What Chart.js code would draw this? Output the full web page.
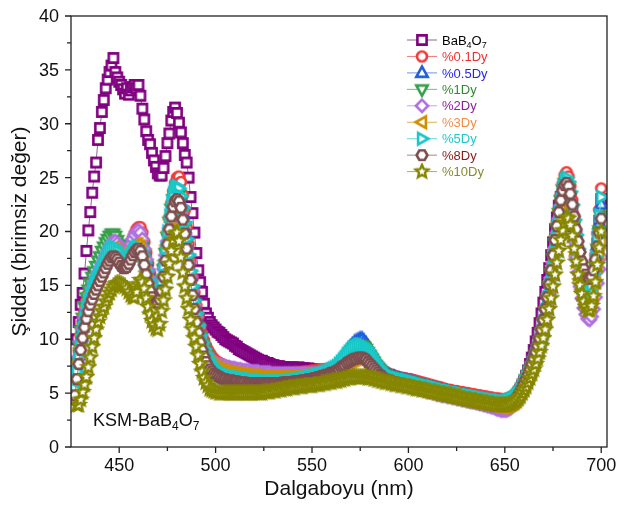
<!DOCTYPE html>
<html>
<head>
<meta charset="utf-8">
<script src="https://cdn.jsdelivr.net/npm/chart.js@4.4.1/dist/chart.umd.min.js"></script>
<style>
  html, body { margin: 0; padding: 0; background: #fff; }
</style>
</head>
<body>
<canvas id="myChart" width="617" height="506"></canvas>
<script>
const FONT = "'Liberation Sans', Arial, sans-serif";

// wavelength grid, 1 nm steps
const wavelengths = [];
for (let w = 427; w <= 700; w++) wavelengths.push(w);

const seriesNames = ["BaB4O7", "%0.1Dy", "%0.5Dy", "%1Dy", "%2Dy", "%3Dy", "%5Dy", "%8Dy", "%10Dy"];
const xTickLabels = [450, 500, 550, 600, 650, 700];
const yTickLabels = [0, 5, 10, 15, 20, 25, 30, 35, 40];

const bab4o7 = [
  null, 10.0, 11.6, 13.2, 14.3, 16.1, 18.2, 20.1, 21.8, 23.6,
  25.1, 26.4, 28.5, 29.6, 31.1, 32.2, 33.3, 34.1, 34.8, 35.4,
  36.1, 34.8, 34.3, 33.9, 33.6, 33.2, 32.8, 33.3, 32.7, 33.1,
  33.4, 33.6, 33.3, 33.6, 32.6, 31.4, 30.4, 29.3, 28.5, 28.1,
  27.3, 26.6, 26.0, 25.4, 25.2, 25.2, 25.9, 27.0, 28.2, 29.1,
  30.3, 31.1, 31.5, 31.0, 30.1, 29.2, 28.2, 27.1, 26.4, 25.0,
  23.2, 21.7, 19.9, 18.0, 16.4, 15.3, 14.4, 13.3, 12.4, 12.0,
  11.6, 11.3, 11.1, 10.9, 10.7, 10.6, 10.4, 10.2, 10.0, 9.9,
  9.8, 9.7, 9.6, 9.4, 9.3, 9.1, 9.0, 8.9, 8.8, 8.7,
  8.6, 8.5, 8.4, 8.3, 8.2, 8.1, 8.0, 8.0, 7.9, 7.8,
  7.8, 7.7, 7.6, 7.6, 7.5, 7.5, 7.5, 7.4, 7.4, 7.4,
  7.3, 7.4, 7.3, 7.4, 7.3, 7.3, 7.4, 7.3, 7.3, 7.3,
  7.2, 7.3, 7.2, 7.2, 7.2, 7.1, 7.1, 7.0, 7.0, 7.0,
  6.9, 6.9, 6.9, 6.9, 6.9, 7.0, 7.0, 7.1, 7.2, 7.3,
  7.5, 7.6, 7.8, 8.0, 8.2, 8.4, 8.6, 8.8, 9.0, 9.1,
  9.0, 8.8, 8.6, 8.4, 8.1, 7.9, 7.6, 7.4, 7.2, 7.0,
  6.9, 6.8, 6.7, 6.7, 6.6, 6.5, 6.5, 6.4, 6.4, 6.3,
  6.3, 6.2, 6.2, 6.1, 6.1, 6.0, 6.0, 5.9, 5.9, 5.8,
  5.8, 5.8, 5.7, 5.7, 5.6, 5.6, 5.5, 5.5, 5.5, 5.4,
  5.4, 5.3, 5.3, 5.2, 5.2, 5.1, 5.1, 5.0, 5.0, 5.0,
  4.9, 4.9, 4.8, 4.8, 4.7, 4.7, 4.6, 4.6, 4.5, 4.5,
  4.5, 4.4, 4.4, 4.3, 4.3, 4.2, 4.2, 4.2, 4.1, 4.1,
  4.0, 4.0, 4.0, 4.0, 4.0, 4.1, 4.2, 4.3, 4.5, 4.7,
  5.0, 5.3, 5.7, 6.1, 6.6, 7.1, 7.7, 8.3, 9.0, 9.8,
  10.6, 11.5, 12.4, 13.4, 14.4, 15.5, 16.6, 17.8, 19.0, 20.2,
  21.3, 22.4, 23.2, 23.8, 24.1, 24.0, 23.6, 22.9, 21.9, 20.6,
  19.3, 18.0, 16.8, 15.8, 15.0, 14.4, 14.0, 13.9, 14.3, 15.3,
  16.9, 18.9, 21.0, 23.0
];

const dy01 = [
  5.8, 7.4, 8.9, 10.3, 11.6, 12.6, 13.5, 14.2, 14.8, 15.3,
  15.8, 16.2, 16.6, 17.0, 17.4, 17.8, 18.2, 18.6, 19.0, 19.3,
  19.5, 19.5, 19.2, 18.8, 18.4, 18.1, 18.0, 18.1, 18.4, 18.8,
  19.3, 19.8, 20.2, 20.4, 20.4, 19.9, 19.0, 18.0, 17.0, 16.1,
  15.3, 14.8, 14.4, 14.3, 14.6, 15.5, 16.8, 18.3, 19.8, 21.3,
  22.6, 23.7, 24.5, 25.0, 25.1, 24.6, 23.4, 22.0, 20.4, 18.8,
  17.2, 15.7, 14.3, 13.1, 12.1, 11.2, 10.5, 9.9, 9.4, 9.0,
  8.7, 8.4, 8.2, 8.0, 7.9, 7.8, 7.7, 7.6, 7.5, 7.5,
  7.4, 7.4, 7.3, 7.3, 7.2, 7.2, 7.2, 7.1, 7.1, 7.1,
  7.0, 7.0, 7.0, 7.0, 6.9, 6.9, 6.9, 6.9, 6.9, 6.8,
  6.8, 6.8, 6.8, 6.8, 6.8, 6.8, 6.8, 6.8, 6.8, 6.8,
  6.8, 6.8, 6.8, 6.8, 6.8, 6.9, 6.9, 6.9, 6.9, 7.0,
  7.0, 7.0, 7.0, 7.1, 7.1, 7.1, 7.1, 7.2, 7.2, 7.2,
  7.2, 7.2, 7.3, 7.3, 7.3, 7.4, 7.5, 7.6, 7.8, 8.0,
  8.3, 8.6, 8.9, 9.1, 9.3, 9.5, 9.6, 9.7, 9.8, 9.8,
  9.6, 9.4, 9.1, 8.8, 8.5, 8.2, 7.9, 7.6, 7.4, 7.2,
  7.0, 6.9, 6.8, 6.7, 6.7, 6.6, 6.6, 6.5, 6.5, 6.4,
  6.4, 6.4, 6.3, 6.3, 6.3, 6.2, 6.2, 6.1, 6.1, 6.0,
  6.0, 5.9, 5.9, 5.8, 5.8, 5.7, 5.7, 5.6, 5.6, 5.5,
  5.5, 5.4, 5.4, 5.3, 5.3, 5.3, 5.2, 5.2, 5.2, 5.1,
  5.1, 5.1, 5.0, 5.0, 5.0, 4.9, 4.9, 4.9, 4.8, 4.8,
  4.8, 4.7, 4.7, 4.7, 4.6, 4.6, 4.6, 4.5, 4.5, 4.5,
  4.5, 4.4, 4.4, 4.4, 4.5, 4.5, 4.6, 4.7, 4.8, 5.0,
  5.2, 5.5, 5.8, 6.2, 6.6, 7.0, 7.4, 7.8, 8.3, 8.8,
  9.4, 10.1, 10.9, 11.8, 12.8, 13.9, 15.1, 16.4, 17.8, 19.2,
  20.6, 22.0, 23.3, 24.4, 25.2, 25.5, 25.1, 24.2, 22.9, 21.4,
  19.9, 18.5, 17.3, 16.3, 15.5, 14.9, 14.6, 14.6, 15.1, 16.2,
  17.8, 19.8, 22.0, 24.0
];

const dy05 = [
  5.5, 7.0, 8.5, 9.9, 11.1, 12.1, 13.0, 13.7, 14.3, 14.8,
  15.3, 15.7, 16.1, 16.5, 16.9, 17.3, 17.7, 18.1, 18.5, 18.8,
  19.0, 19.0, 18.7, 18.3, 17.9, 17.6, 17.5, 17.6, 17.9, 18.3,
  18.7, 19.1, 19.4, 19.5, 19.4, 18.9, 18.1, 17.2, 16.3, 15.4,
  14.7, 14.2, 13.8, 13.7, 14.0, 14.8, 16.0, 17.4, 18.8, 20.1,
  21.3, 22.3, 22.9, 23.2, 23.1, 22.6, 21.6, 20.3, 18.9, 17.4,
  15.9, 14.5, 13.2, 12.0, 11.0, 10.1, 9.4, 8.8, 8.3, 7.9,
  7.6, 7.3, 7.1, 6.9, 6.8, 6.6, 6.5, 6.4, 6.3, 6.2,
  6.2, 6.1, 6.1, 6.0, 6.0, 5.9, 5.9, 5.9, 5.8, 5.8,
  5.8, 5.8, 5.7, 5.7, 5.7, 5.7, 5.7, 5.7, 5.6, 5.6,
  5.6, 5.6, 5.6, 5.6, 5.6, 5.6, 5.6, 5.6, 5.6, 5.6,
  5.6, 5.6, 5.6, 5.7, 5.7, 5.7, 5.8, 5.8, 5.9, 5.9,
  6.0, 6.0, 6.1, 6.2, 6.2, 6.3, 6.4, 6.5, 6.6, 6.7,
  6.8, 6.9, 7.0, 7.1, 7.2, 7.3, 7.5, 7.7, 7.9, 8.2,
  8.5, 8.8, 9.1, 9.3, 9.5, 9.7, 9.8, 9.9, 10.0, 10.0,
  9.8, 9.6, 9.3, 9.0, 8.6, 8.3, 8.0, 7.7, 7.4, 7.2,
  7.0, 6.8, 6.7, 6.6, 6.5, 6.4, 6.4, 6.3, 6.3, 6.2,
  6.2, 6.1, 6.1, 6.0, 6.0, 5.9, 5.9, 5.8, 5.8, 5.7,
  5.7, 5.6, 5.6, 5.5, 5.5, 5.4, 5.4, 5.3, 5.3, 5.2,
  5.2, 5.1, 5.1, 5.0, 5.0, 4.9, 4.9, 4.8, 4.8, 4.7,
  4.7, 4.7, 4.6, 4.6, 4.5, 4.5, 4.4, 4.4, 4.4, 4.3,
  4.3, 4.2, 4.2, 4.2, 4.1, 4.1, 4.0, 4.0, 4.0, 3.9,
  3.9, 3.9, 3.9, 3.9, 3.9, 4.0, 4.1, 4.2, 4.3, 4.5,
  4.7, 5.0, 5.3, 5.7, 6.1, 6.5, 6.9, 7.3, 7.8, 8.3,
  8.9, 9.6, 10.4, 11.3, 12.3, 13.4, 14.6, 15.9, 17.2, 18.6,
  20.0, 21.4, 22.6, 23.6, 24.2, 24.3, 23.9, 23.0, 21.8, 20.4,
  19.0, 17.6, 16.4, 15.4, 14.6, 14.0, 13.7, 13.7, 14.2, 15.2,
  16.8, 18.7, 20.7, 22.5
];

const dy1 = [
  6.2, 7.9, 9.4, 10.8, 12.0, 13.0, 13.9, 14.6, 15.2, 15.8,
  16.3, 16.8, 17.3, 17.7, 18.2, 18.6, 19.0, 19.3, 19.6, 19.8,
  19.8, 19.6, 19.2, 18.8, 18.4, 18.1, 17.9, 17.9, 18.1, 18.4,
  18.8, 19.1, 19.3, 19.3, 19.1, 18.6, 17.9, 17.0, 16.1, 15.3,
  14.6, 14.2, 13.9, 13.9, 14.3, 15.2, 16.5, 18.0, 19.5, 20.9,
  22.1, 23.0, 23.5, 23.6, 23.4, 22.8, 21.8, 20.5, 19.0, 17.5,
  16.0, 14.6, 13.3, 12.1, 11.1, 10.3, 9.6, 9.1, 8.6, 8.3,
  8.0, 7.7, 7.5, 7.3, 7.2, 7.1, 7.0, 6.9, 6.8, 6.8,
  6.7, 6.7, 6.6, 6.6, 6.6, 6.5, 6.5, 6.5, 6.4, 6.4,
  6.4, 6.4, 6.3, 6.3, 6.3, 6.3, 6.3, 6.3, 6.2, 6.2,
  6.2, 6.2, 6.2, 6.2, 6.2, 6.2, 6.2, 6.2, 6.2, 6.2,
  6.2, 6.2, 6.2, 6.3, 6.3, 6.3, 6.3, 6.4, 6.4, 6.4,
  6.5, 6.5, 6.5, 6.6, 6.6, 6.7, 6.7, 6.8, 6.8, 6.9,
  6.9, 7.0, 7.0, 7.1, 7.2, 7.3, 7.4, 7.5, 7.7, 7.9,
  8.1, 8.4, 8.6, 8.8, 9.0, 9.2, 9.3, 9.4, 9.4, 9.4,
  9.3, 9.1, 8.8, 8.5, 8.2, 7.9, 7.6, 7.4, 7.2, 7.0,
  6.8, 6.7, 6.6, 6.5, 6.5, 6.4, 6.4, 6.3, 6.3, 6.2,
  6.2, 6.1, 6.1, 6.1, 6.0, 6.0, 5.9, 5.9, 5.8, 5.8,
  5.7, 5.7, 5.6, 5.6, 5.5, 5.5, 5.5, 5.4, 5.4, 5.3,
  5.3, 5.2, 5.2, 5.1, 5.1, 5.1, 5.0, 5.0, 4.9, 4.9,
  4.9, 4.8, 4.8, 4.7, 4.7, 4.7, 4.6, 4.6, 4.5, 4.5,
  4.5, 4.4, 4.4, 4.4, 4.3, 4.3, 4.3, 4.2, 4.2, 4.2,
  4.1, 4.1, 4.1, 4.1, 4.1, 4.2, 4.2, 4.3, 4.5, 4.7,
  4.9, 5.2, 5.5, 5.9, 6.3, 6.7, 7.1, 7.5, 8.0, 8.5,
  9.1, 9.8, 10.6, 11.5, 12.5, 13.6, 14.8, 16.1, 17.5, 18.9,
  20.3, 21.7, 22.9, 23.9, 24.5, 24.6, 24.2, 23.3, 22.0, 20.6,
  19.2, 17.9, 16.7, 15.7, 14.9, 14.3, 14.0, 14.0, 14.4, 15.3,
  16.7, 18.4, 20.1, 21.5
];

const dy2 = [
  5.3, 6.9, 8.4, 9.8, 11.0, 12.0, 12.9, 13.6, 14.2, 14.8,
  15.3, 15.8, 16.2, 16.6, 17.0, 17.4, 17.8, 18.2, 18.6, 18.9,
  19.1, 19.1, 18.9, 18.6, 18.3, 18.1, 18.0, 18.1, 18.4, 18.8,
  19.3, 19.7, 20.0, 20.1, 19.9, 19.3, 18.4, 17.4, 16.4, 15.6,
  14.9, 14.5, 14.2, 14.2, 14.5, 15.3, 16.5, 17.8, 19.1, 20.3,
  21.3, 22.0, 22.4, 22.5, 22.3, 21.7, 20.8, 19.7, 18.4, 17.1,
  15.8, 14.5, 13.2, 12.1, 11.1, 10.3, 9.6, 9.1, 8.7, 8.4,
  8.2, 8.0, 7.9, 7.8, 7.7, 7.6, 7.6, 7.5, 7.5, 7.4,
  7.4, 7.3, 7.3, 7.3, 7.2, 7.2, 7.2, 7.1, 7.1, 7.1,
  7.1, 7.0, 7.0, 7.0, 7.0, 7.0, 6.9, 6.9, 6.9, 6.9,
  6.9, 6.9, 6.8, 6.8, 6.8, 6.8, 6.8, 6.8, 6.8, 6.8,
  6.8, 6.8, 6.8, 6.8, 6.8, 6.8, 6.8, 6.8, 6.8, 6.8,
  6.8, 6.8, 6.8, 6.8, 6.8, 6.8, 6.8, 6.8, 6.8, 6.8,
  6.8, 6.8, 6.8, 6.9, 6.9, 7.0, 7.1, 7.2, 7.3, 7.5,
  7.6, 7.8, 8.0, 8.1, 8.3, 8.4, 8.5, 8.6, 8.6, 8.6,
  8.5, 8.3, 8.1, 7.9, 7.7, 7.4, 7.2, 7.0, 6.8, 6.7,
  6.5, 6.4, 6.3, 6.2, 6.2, 6.1, 6.0, 6.0, 5.9, 5.9,
  5.8, 5.8, 5.7, 5.7, 5.6, 5.6, 5.5, 5.5, 5.4, 5.4,
  5.3, 5.3, 5.2, 5.2, 5.1, 5.1, 5.0, 5.0, 4.9, 4.9,
  4.8, 4.8, 4.8, 4.7, 4.7, 4.7, 4.6, 4.6, 4.5, 4.5,
  4.5, 4.4, 4.4, 4.3, 4.3, 4.2, 4.2, 4.2, 4.1, 4.1,
  4.0, 4.0, 3.9, 3.9, 3.8, 3.8, 3.7, 3.7, 3.6, 3.5,
  3.5, 3.4, 3.4, 3.4, 3.4, 3.5, 3.6, 3.8, 4.0, 4.2,
  4.5, 4.8, 5.1, 5.5, 5.9, 6.3, 6.7, 7.1, 7.6, 8.1,
  8.7, 9.4, 10.2, 11.1, 12.1, 13.2, 14.4, 15.7, 17.1, 18.5,
  19.9, 21.2, 22.4, 23.2, 23.6, 23.5, 22.9, 21.9, 20.6, 19.1,
  17.6, 16.2, 14.9, 13.8, 12.9, 12.3, 11.9, 11.8, 12.1, 12.8,
  13.9, 15.2, 16.5, 17.6
];

const dy3 = [
  5.0, 6.5, 7.9, 9.2, 10.4, 11.4, 12.3, 13.0, 13.7, 14.3,
  14.8, 15.3, 15.7, 16.1, 16.5, 16.9, 17.3, 17.7, 18.0, 18.3,
  18.4, 18.3, 18.1, 17.8, 17.5, 17.3, 17.2, 17.3, 17.6, 18.0,
  18.4, 18.7, 18.8, 18.8, 18.6, 18.0, 17.2, 16.3, 15.4, 14.6,
  14.0, 13.7, 13.6, 13.6, 13.9, 14.7, 15.9, 17.3, 18.7, 20.0,
  21.1, 21.9, 22.3, 22.4, 22.2, 21.6, 20.6, 19.4, 18.1, 16.7,
  15.3, 14.0, 12.8, 11.7, 10.7, 9.9, 9.2, 8.7, 8.3, 8.0,
  7.8, 7.6, 7.5, 7.4, 7.3, 7.2, 7.1, 7.1, 7.0, 7.0,
  6.9, 6.9, 6.9, 6.8, 6.8, 6.8, 6.7, 6.7, 6.7, 6.7,
  6.6, 6.6, 6.6, 6.6, 6.6, 6.5, 6.5, 6.5, 6.5, 6.5,
  6.5, 6.5, 6.5, 6.5, 6.5, 6.5, 6.5, 6.5, 6.5, 6.5,
  6.5, 6.5, 6.5, 6.5, 6.5, 6.5, 6.5, 6.5, 6.6, 6.6,
  6.6, 6.6, 6.6, 6.6, 6.7, 6.7, 6.7, 6.7, 6.7, 6.8,
  6.8, 6.8, 6.8, 6.9, 6.9, 7.0, 7.0, 7.1, 7.2, 7.3,
  7.5, 7.6, 7.8, 7.9, 8.0, 8.1, 8.2, 8.3, 8.3, 8.3,
  8.2, 8.0, 7.8, 7.6, 7.4, 7.2, 7.0, 6.8, 6.6, 6.5,
  6.4, 6.3, 6.2, 6.1, 6.1, 6.0, 6.0, 5.9, 5.9, 5.8,
  5.8, 5.7, 5.7, 5.6, 5.6, 5.6, 5.5, 5.5, 5.4, 5.4,
  5.3, 5.3, 5.3, 5.2, 5.2, 5.1, 5.1, 5.0, 5.0, 5.0,
  4.9, 4.9, 4.8, 4.8, 4.8, 4.7, 4.7, 4.6, 4.6, 4.6,
  4.5, 4.5, 4.4, 4.4, 4.4, 4.3, 4.3, 4.2, 4.2, 4.2,
  4.1, 4.1, 4.0, 4.0, 4.0, 3.9, 3.9, 3.9, 3.8, 3.8,
  3.8, 3.7, 3.7, 3.7, 3.7, 3.8, 3.9, 4.0, 4.1, 4.3,
  4.5, 4.8, 5.1, 5.4, 5.8, 6.2, 6.6, 7.0, 7.5, 8.0,
  8.6, 9.3, 10.1, 11.0, 11.9, 13.0, 14.2, 15.4, 16.8, 18.2,
  19.6, 20.9, 22.0, 22.9, 23.3, 23.4, 22.9, 22.0, 20.8, 19.5,
  18.1, 16.8, 15.6, 14.6, 13.8, 13.3, 13.0, 13.0, 13.4, 14.2,
  15.4, 16.8, 18.0, 19.0
];

const dy5 = [
  5.4, 7.0, 8.5, 9.8, 11.0, 12.0, 12.9, 13.6, 14.2, 14.7,
  15.2, 15.6, 16.0, 16.4, 16.8, 17.2, 17.6, 18.0, 18.3, 18.5,
  18.6, 18.5, 18.2, 17.8, 17.4, 17.1, 17.0, 17.1, 17.4, 17.8,
  18.2, 18.5, 18.6, 18.5, 18.3, 17.8, 17.1, 16.3, 15.5, 14.8,
  14.3, 14.0, 14.0, 14.1, 14.5, 15.4, 16.8, 18.4, 20.0, 21.5,
  22.7, 23.6, 24.1, 24.2, 24.0, 23.3, 22.2, 20.8, 19.3, 17.8,
  16.3, 14.9, 13.6, 12.4, 11.3, 10.4, 9.7, 9.1, 8.6, 8.2,
  7.9, 7.6, 7.4, 7.2, 7.1, 7.0, 6.9, 6.8, 6.7, 6.7,
  6.6, 6.6, 6.5, 6.5, 6.5, 6.4, 6.4, 6.4, 6.3, 6.3,
  6.3, 6.3, 6.2, 6.2, 6.2, 6.2, 6.2, 6.2, 6.1, 6.1,
  6.1, 6.1, 6.1, 6.1, 6.1, 6.1, 6.1, 6.1, 6.1, 6.1,
  6.1, 6.1, 6.2, 6.2, 6.2, 6.2, 6.3, 6.3, 6.3, 6.4,
  6.4, 6.5, 6.5, 6.6, 6.6, 6.7, 6.7, 6.8, 6.8, 6.9,
  7.0, 7.0, 7.1, 7.2, 7.3, 7.4, 7.5, 7.7, 7.9, 8.1,
  8.3, 8.6, 8.8, 9.0, 9.2, 9.3, 9.4, 9.5, 9.5, 9.5,
  9.4, 9.2, 9.0, 8.7, 8.4, 8.1, 7.8, 7.5, 7.3, 7.1,
  6.9, 6.8, 6.7, 6.6, 6.5, 6.5, 6.4, 6.4, 6.3, 6.3,
  6.2, 6.2, 6.2, 6.1, 6.1, 6.0, 6.0, 5.9, 5.9, 5.8,
  5.8, 5.7, 5.7, 5.6, 5.6, 5.6, 5.5, 5.5, 5.4, 5.4,
  5.3, 5.3, 5.2, 5.2, 5.2, 5.1, 5.1, 5.0, 5.0, 5.0,
  4.9, 4.9, 4.8, 4.8, 4.8, 4.7, 4.7, 4.7, 4.6, 4.6,
  4.6, 4.5, 4.5, 4.5, 4.4, 4.4, 4.4, 4.3, 4.3, 4.3,
  4.3, 4.2, 4.2, 4.2, 4.3, 4.3, 4.4, 4.5, 4.6, 4.8,
  5.0, 5.3, 5.6, 6.0, 6.4, 6.8, 7.2, 7.6, 8.1, 8.6,
  9.2, 9.9, 10.7, 11.6, 12.6, 13.7, 14.9, 16.2, 17.6, 19.0,
  20.4, 21.8, 23.0, 24.1, 24.8, 25.0, 24.6, 23.7, 22.5, 21.1,
  19.7, 18.4, 17.2, 16.2, 15.4, 14.8, 14.5, 14.5, 15.0, 16.1,
  17.6, 19.5, 21.5, 23.2
];

const dy8 = [
  4.8, 6.3, 7.7, 9.0, 10.1, 11.1, 11.9, 12.6, 13.2, 13.7,
  14.2, 14.6, 15.0, 15.4, 15.8, 16.2, 16.6, 17.0, 17.3, 17.6,
  17.7, 17.6, 17.4, 17.1, 16.8, 16.6, 16.6, 16.7, 17.0, 17.4,
  17.8, 18.1, 18.3, 18.4, 18.2, 17.7, 16.9, 16.0, 15.2, 14.5,
  13.9, 13.5, 13.4, 13.4, 13.7, 14.5, 15.8, 17.3, 18.8, 20.2,
  21.4, 22.3, 22.8, 23.0, 22.8, 22.2, 21.1, 19.8, 18.4, 16.9,
  15.5, 14.1, 12.8, 11.6, 10.6, 9.7, 9.0, 8.4, 7.9, 7.5,
  7.2, 7.0, 6.8, 6.7, 6.6, 6.5, 6.4, 6.3, 6.3, 6.2,
  6.2, 6.2, 6.1, 6.1, 6.1, 6.0, 6.0, 6.0, 6.0, 5.9,
  5.9, 5.9, 5.9, 5.9, 5.9, 5.9, 5.9, 5.9, 5.9, 5.9,
  5.9, 5.9, 5.9, 5.9, 5.9, 5.9, 5.9, 5.9, 6.0, 6.0,
  6.0, 6.0, 6.0, 6.0, 6.1, 6.1, 6.1, 6.1, 6.2, 6.2,
  6.2, 6.3, 6.3, 6.3, 6.4, 6.4, 6.5, 6.5, 6.6, 6.6,
  6.7, 6.7, 6.8, 6.9, 6.9, 7.0, 7.1, 7.2, 7.4, 7.5,
  7.6, 7.8, 7.9, 8.0, 8.1, 8.2, 8.2, 8.3, 8.3, 8.3,
  8.2, 8.1, 7.9, 7.7, 7.5, 7.3, 7.1, 6.9, 6.7, 6.6,
  6.4, 6.3, 6.2, 6.2, 6.1, 6.0, 6.0, 5.9, 5.9, 5.8,
  5.8, 5.7, 5.7, 5.7, 5.6, 5.6, 5.5, 5.5, 5.4, 5.4,
  5.4, 5.3, 5.3, 5.2, 5.2, 5.1, 5.1, 5.1, 5.0, 5.0,
  4.9, 4.9, 4.9, 4.8, 4.8, 4.7, 4.7, 4.6, 4.6, 4.6,
  4.5, 4.5, 4.4, 4.4, 4.4, 4.3, 4.3, 4.3, 4.2, 4.2,
  4.2, 4.1, 4.1, 4.1, 4.0, 4.0, 4.0, 3.9, 3.9, 3.9,
  3.9, 3.8, 3.8, 3.8, 3.9, 3.9, 4.0, 4.1, 4.3, 4.5,
  4.8, 5.1, 5.5, 5.9, 6.3, 6.7, 7.2, 7.7, 8.2, 8.8,
  9.4, 10.1, 10.9, 11.8, 12.8, 13.9, 15.1, 16.4, 17.8, 19.2,
  20.5, 21.8, 22.9, 23.8, 24.3, 24.5, 24.2, 23.5, 22.5, 21.4,
  20.2, 19.1, 18.1, 17.2, 16.5, 16.0, 15.7, 15.6, 15.8, 16.4,
  17.4, 18.6, 19.9, 21.2
];

const dy10 = [
  null, 3.9, 3.9, 4.4, 5.1, 5.8, 6.5, 7.4, 8.3, 9.3,
  10.1, 10.9, 11.6, 12.1, 12.6, 13.0, 13.5, 13.9, 14.3, 14.6,
  14.9, 15.1, 15.2, 15.2, 15.1, 15.0, 14.9, 14.7, 14.4, 14.1,
  13.9, 13.9, 14.4, 15.1, 15.5, 15.3, 14.7, 13.8, 13.0, 12.3,
  11.7, 11.3, 11.0, 10.9, 11.4, 12.6, 13.6, 14.6, 15.8, 17.0,
  18.2, 19.2, 19.8, 19.9, 19.1, 17.6, 16.2, 14.9, 13.8, 12.8,
  11.8, 10.9, 10.1, 9.3, 8.5, 7.7, 7.0, 6.4, 6.0, 5.7,
  5.4, 5.3, 5.2, 5.1, 5.1, 5.0, 5.0, 5.0, 5.0, 5.0,
  5.0, 5.0, 5.0, 5.0, 5.0, 5.0, 5.0, 5.0, 5.0, 5.0,
  5.0, 5.0, 5.0, 5.0, 5.0, 5.0, 5.0, 5.0, 5.1, 5.1,
  5.1, 5.1, 5.2, 5.2, 5.2, 5.3, 5.3, 5.3, 5.4, 5.4,
  5.4, 5.5, 5.5, 5.5, 5.5, 5.6, 5.6, 5.6, 5.6, 5.7,
  5.7, 5.7, 5.7, 5.7, 5.8, 5.8, 5.8, 5.8, 5.9, 5.9,
  5.9, 6.0, 6.0, 6.0, 6.1, 6.1, 6.1, 6.2, 6.2, 6.3,
  6.3, 6.4, 6.4, 6.4, 6.5, 6.5, 6.5, 6.5, 6.5, 6.5,
  6.5, 6.5, 6.4, 6.4, 6.4, 6.3, 6.3, 6.2, 6.2, 6.1,
  6.1, 6.0, 6.0, 6.0, 5.9, 5.9, 5.8, 5.8, 5.8, 5.7,
  5.7, 5.7, 5.6, 5.6, 5.6, 5.5, 5.5, 5.4, 5.4, 5.4,
  5.3, 5.3, 5.3, 5.2, 5.2, 5.1, 5.1, 5.1, 5.0, 5.0,
  4.9, 4.9, 4.9, 4.8, 4.8, 4.8, 4.7, 4.7, 4.6, 4.6,
  4.6, 4.5, 4.5, 4.4, 4.4, 4.4, 4.3, 4.3, 4.3, 4.2,
  4.2, 4.2, 4.1, 4.1, 4.1, 4.0, 4.0, 4.0, 3.9, 3.9,
  3.9, 3.9, 3.9, 3.9, 3.9, 4.0, 4.0, 4.1, 4.2, 4.3,
  4.5, 4.7, 5.0, 5.3, 5.6, 6.0, 6.4, 6.8, 7.2, 7.7,
  8.2, 8.8, 9.4, 10.1, 10.9, 11.8, 12.8, 13.8, 14.9, 16.0,
  17.1, 18.2, 19.2, 20.1, 20.8, 21.3, 21.2, 20.6, 19.6, 18.4,
  17.2, 16.0, 15.0, 14.2, 13.5, 13.0, 12.7, 12.7, 13.1, 14.0,
  15.3, 16.9, 18.5, 20.0
];

const seriesValues = [bab4o7, dy01, dy05, dy1, dy2, dy3, dy5, dy8, dy10];

// styling
const markerColors = ["#800080", "#F03C3C", "#1F5FD9", "#35A04A", "#B070E0", "#CC9000", "#19C7C7", "#7E4E4E", "#868600"];
const lineColors = ["#8C6A8C", "#F47A7A", "#6F95E6", "#74C07F", "#C9A0EA", "#DDB24D", "#66DADA", "#A98686", "#AFAF4D"];
const textColors = ["#000000", "#F03030", "#2525F0", "#2E8B2E", "#8B1F9B", "#F08C4A", "#22C8C8", "#8B1A1A", "#8A8A30"];
const shapes = ["square", "circle", "triUp", "triDown", "diamond", "triLeft", "triRight", "hexagon", "star"];

// build hollow (white filled) marker images
const makeMarker = (shape, color) => {
  const c = document.createElement("canvas");
  c.width = 18;
  c.height = 18;
  const g = c.getContext("2d");
  g.translate(9, 9);
  g.lineWidth = 2.6;
  g.strokeStyle = color;
  g.fillStyle = "#fff";
  g.lineJoin = "miter";
  g.beginPath();
  const poly = (pts) => {
    g.moveTo(pts[0][0], pts[0][1]);
    for (let i = 1; i < pts.length; i++) g.lineTo(pts[i][0], pts[i][1]);
    g.closePath();
  };
  if (shape === "square") {
    g.rect(-4.6, -4.6, 9.2, 9.2);
  } else if (shape === "circle") {
    g.arc(0, 0, 5.0, 0, Math.PI * 2);
  } else if (shape === "triUp") {
    poly([[0, -6.4], [5.7, 3.9], [-5.7, 3.9]]);
  } else if (shape === "triDown") {
    poly([[0, 6.4], [5.7, -3.9], [-5.7, -3.9]]);
  } else if (shape === "diamond") {
    poly([[0, -6.1], [6.1, 0], [0, 6.1], [-6.1, 0]]);
  } else if (shape === "triLeft") {
    poly([[-6.4, 0], [3.9, -5.7], [3.9, 5.7]]);
  } else if (shape === "triRight") {
    poly([[6.4, 0], [-3.9, -5.7], [-3.9, 5.7]]);
  } else if (shape === "hexagon") {
    const pts = [];
    for (let k = 0; k < 6; k++) {
      const a = (Math.PI / 3) * k;
      pts.push([5.4 * Math.cos(a), 5.4 * Math.sin(a)]);
    }
    poly(pts);
  } else if (shape === "star") {
    const pts = [];
    for (let k = 0; k < 10; k++) {
      const a = -Math.PI / 2 + (Math.PI / 5) * k;
      const r = k % 2 === 0 ? 6.8 : 3.1;
      pts.push([r * Math.cos(a), r * Math.sin(a)]);
    }
    g.lineWidth = 2.4;
    poly(pts);
  }
  g.fill();
  g.stroke();
  return c;
};

const markers = shapes.map((s, i) => makeMarker(s, markerColors[i]));

const datasets = seriesValues.map((vals, i) => ({
  label: seriesNames[i],
  data: vals.map((v, k) => ({ x: wavelengths[k], y: v })),
  borderColor: lineColors[i],
  borderWidth: 1,
  pointStyle: markers[i],
  pointRadius: 5,
  pointHoverRadius: 5,
  showLine: true,
  tension: 0,
  order: seriesValues.length - 1 - i, // BaB4O7 at the back, 10Dy on top
}));

// frame, ticks, tick labels, legend and sample label
const extrasPlugin = {
  id: "extras",
  afterDraw(chart) {
    const { ctx, chartArea: a, scales } = chart;
    const xs = scales.x;
    const ys = scales.y;
    ctx.save();
    ctx.strokeStyle = "#222";
    ctx.lineWidth = 1.3;
    ctx.strokeRect(a.left, a.top, a.right - a.left, a.bottom - a.top);

    ctx.beginPath();
    for (let v = 450; v <= 700; v += 25) {
      const px = xs.getPixelForValue(v);
      const len = v % 50 === 0 ? 6 : 4;
      ctx.moveTo(px, a.bottom);
      ctx.lineTo(px, a.bottom + len);
    }
    for (let v = 0; v <= 40; v += 2.5) {
      const py = ys.getPixelForValue(v);
      const len = v % 5 === 0 ? 6 : 4;
      ctx.moveTo(a.left, py);
      ctx.lineTo(a.left - len, py);
    }
    ctx.stroke();

    // tick labels
    ctx.fillStyle = "#111";
    ctx.font = "18px " + FONT;
    ctx.textAlign = "center";
    ctx.textBaseline = "middle";
    xTickLabels.forEach((v) => {
      ctx.fillText(String(v), xs.getPixelForValue(v), a.bottom + 19);
    });
    ctx.textAlign = "right";
    yTickLabels.forEach((v) => {
      ctx.fillText(String(v), a.left - 12, ys.getPixelForValue(v) + 1);
    });

    // legend
    ctx.textAlign = "left";
    ctx.textBaseline = "alphabetic";
    const rowY0 = 40;
    const rowGap = 16.45;
    for (let i = 0; i < seriesNames.length; i++) {
      const yy = rowY0 + i * rowGap;
      ctx.strokeStyle = lineColors[i];
      ctx.lineWidth = 1;
      ctx.beginPath();
      ctx.moveTo(407, yy);
      ctx.lineTo(437, yy);
      ctx.stroke();
      ctx.drawImage(markers[i], 422 - 9, yy - 9);
      ctx.fillStyle = textColors[i];
      const base = yy + 4.6;
      if (i === 0) {
        let tx = 442;
        const parts = [["BaB", 13, 0], ["4", 9, 3], ["O", 13, 0], ["7", 9, 3]];
        parts.forEach(([t, s, dy]) => {
          ctx.font = s + "px " + FONT;
          ctx.fillText(t, tx, base + dy);
          tx += ctx.measureText(t).width;
        });
      } else {
        ctx.font = "13px " + FONT;
        ctx.fillText(seriesNames[i], 442, base);
      }
    }

    // sample label
    ctx.fillStyle = "#111";
    let tx = 93;
    const lb = [["KSM-BaB", 18, 0], ["4", 12, 4], ["O", 18, 0], ["7", 12, 4]];
    lb.forEach(([t, s, dy]) => {
      ctx.font = s + "px " + FONT;
      ctx.fillText(t, tx, 426 + dy);
      tx += ctx.measureText(t).width;
    });
    ctx.restore();
  },
};

const config = {
  type: "line",
  data: { datasets: datasets },
  options: {
    responsive: false,
    animation: false,
    events: [],
    layout: { padding: { top: 16, right: 10, left: 0, bottom: 0 } },
    plugins: { legend: { display: false }, tooltip: { enabled: false } },
    scales: {
      x: {
        type: "linear",
        min: 425,
        max: 703,
        afterFit: (s) => { s.height = 59; },
        grid: { display: false, drawTicks: false },
        border: { display: false },
        ticks: { display: false },
        title: {
          display: true,
          text: "Dalgaboyu (nm)",
          color: "#111",
          font: { family: FONT, size: 21 },
          padding: { top: 0, bottom: 4 },
        },
      },
      y: {
        type: "linear",
        min: 0,
        max: 40,
        afterFit: (s) => { s.width = 71; },
        grid: { display: false, drawTicks: false },
        border: { display: false },
        ticks: { display: false },
        title: {
          display: true,
          text: "Şiddet (birimsiz değer)",
          color: "#111",
          font: { family: FONT, size: 21 },
          padding: { top: 8, bottom: 0 },
        },
      },
    },
  },
  plugins: [extrasPlugin],
};

const myChart = new Chart(document.getElementById("myChart").getContext("2d"), config);
</script>
</body>
</html>
